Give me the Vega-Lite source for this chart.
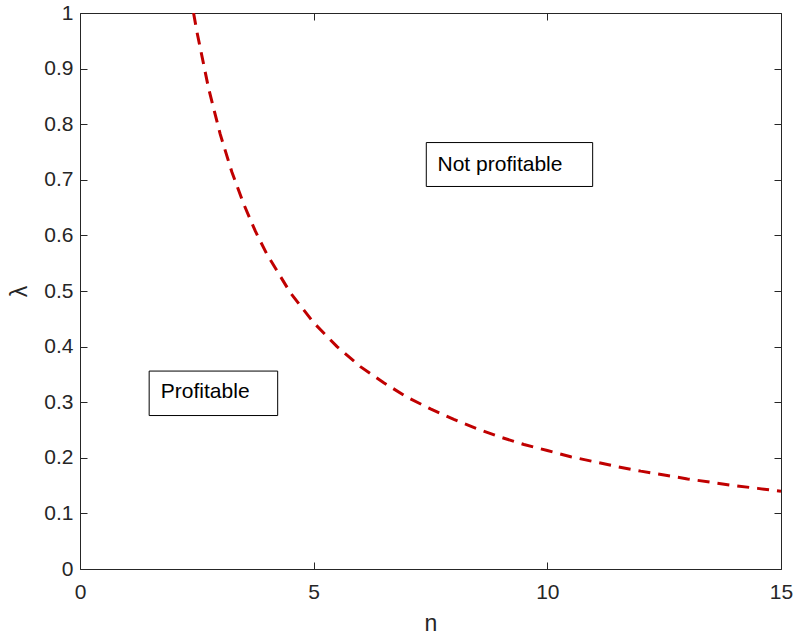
{
  "$schema": "https://vega.github.io/schema/vega-lite/v6.json",
  "width": 701,
  "height": 556,
  "autosize": {"type": "none"},
  "padding": {"left": 80, "top": 13, "right": 16, "bottom": 70},
  "background": "white",
  "config": {
    "view": {"stroke": null},
    "axis": {
      "grid": false,
      "domainColor": "#262626",
      "domainWidth": 1,
      "tickColor": "#262626",
      "tickSize": -7,
      "tickWidth": 1,
      "labelFont": "Liberation Sans",
      "labelFontSize": 21,
      "labelColor": "#262626",
      "labelFlush": false,
      "labelOverlap": false,
      "titleFont": "Liberation Sans",
      "titleFontSize": 23,
      "titleFontWeight": "normal",
      "titleColor": "#262626"
    }
  },
  "datasets": {
    "curve": [
      {"n": 2.43, "lambda": 1.0},
      {"n": 2.5, "lambda": 0.967},
      {"n": 2.75, "lambda": 0.865},
      {"n": 3.0, "lambda": 0.782},
      {"n": 3.25, "lambda": 0.714},
      {"n": 3.5, "lambda": 0.657},
      {"n": 3.75, "lambda": 0.608},
      {"n": 4.0, "lambda": 0.566},
      {"n": 4.5, "lambda": 0.497},
      {"n": 5.0, "lambda": 0.443},
      {"n": 5.5, "lambda": 0.4},
      {"n": 6.0, "lambda": 0.364},
      {"n": 6.5, "lambda": 0.335},
      {"n": 7.0, "lambda": 0.309},
      {"n": 7.5, "lambda": 0.288},
      {"n": 8.0, "lambda": 0.269},
      {"n": 8.5, "lambda": 0.252},
      {"n": 9.0, "lambda": 0.237},
      {"n": 9.5, "lambda": 0.224},
      {"n": 10.0, "lambda": 0.213},
      {"n": 10.5, "lambda": 0.202},
      {"n": 11.0, "lambda": 0.193},
      {"n": 11.5, "lambda": 0.184},
      {"n": 12.0, "lambda": 0.176},
      {"n": 12.5, "lambda": 0.169},
      {"n": 13.0, "lambda": 0.162},
      {"n": 13.5, "lambda": 0.156},
      {"n": 14.0, "lambda": 0.15},
      {"n": 14.5, "lambda": 0.145},
      {"n": 15.0, "lambda": 0.14}
    ],
    "boxes": [
      {"label": "Not profitable", "n1": 7.41, "n2": 10.97, "l1": 0.688, "l2": 0.767, "tn": 7.65, "tl": 0.7275},
      {"label": "Profitable", "n1": 1.48, "n2": 4.23, "l1": 0.276, "l2": 0.356, "tn": 1.73, "tl": 0.3175}
    ]
  },
  "resolve": {"axis": {"x": "independent", "y": "independent"}},
  "layer": [
    {
      "data": {"name": "curve"},
      "mark": {"type": "line", "color": "#c00000", "strokeWidth": 3, "strokeDash": [12, 8], "clip": true},
      "encoding": {
        "x": {
          "field": "n", "type": "quantitative",
          "scale": {"domain": [0, 15], "nice": false, "zero": false},
          "axis": {"orient": "bottom", "values": [0, 5, 10, 15], "title": "n", "labelPadding": 19, "titlePadding": 10, "format": "~g"}
        },
        "y": {
          "field": "lambda", "type": "quantitative",
          "scale": {"domain": [0, 1], "nice": false},
          "axis": {"orient": "left", "values": [0, 0.1, 0.2, 0.3, 0.4, 0.5, 0.6, 0.7, 0.8, 0.9, 1], "title": "λ", "format": "~g", "labelPadding": 14, "titlePadding": 12}
        }
      }
    },
    {
      "data": {"name": "boxes"},
      "mark": {"type": "rect", "fill": "white", "stroke": "#000000", "strokeWidth": 1},
      "encoding": {
        "x": {"field": "n1", "type": "quantitative", "axis": {"orient": "top", "values": [0, 5, 10, 15], "labels": false, "title": null, "domain": true}},
        "x2": {"field": "n2"},
        "y": {"field": "l1", "type": "quantitative", "axis": {"orient": "right", "values": [0, 0.1, 0.2, 0.3, 0.4, 0.5, 0.6, 0.7, 0.8, 0.9, 1], "labels": false, "title": null, "domain": true}},
        "y2": {"field": "l2"}
      }
    },
    {
      "data": {"name": "boxes"},
      "mark": {"type": "text", "align": "left", "baseline": "middle", "font": "Liberation Sans", "fontSize": 21, "color": "#000000"},
      "encoding": {
        "x": {"field": "tn", "type": "quantitative", "axis": null},
        "y": {"field": "tl", "type": "quantitative", "axis": null},
        "text": {"field": "label"}
      }
    }
  ]
}
